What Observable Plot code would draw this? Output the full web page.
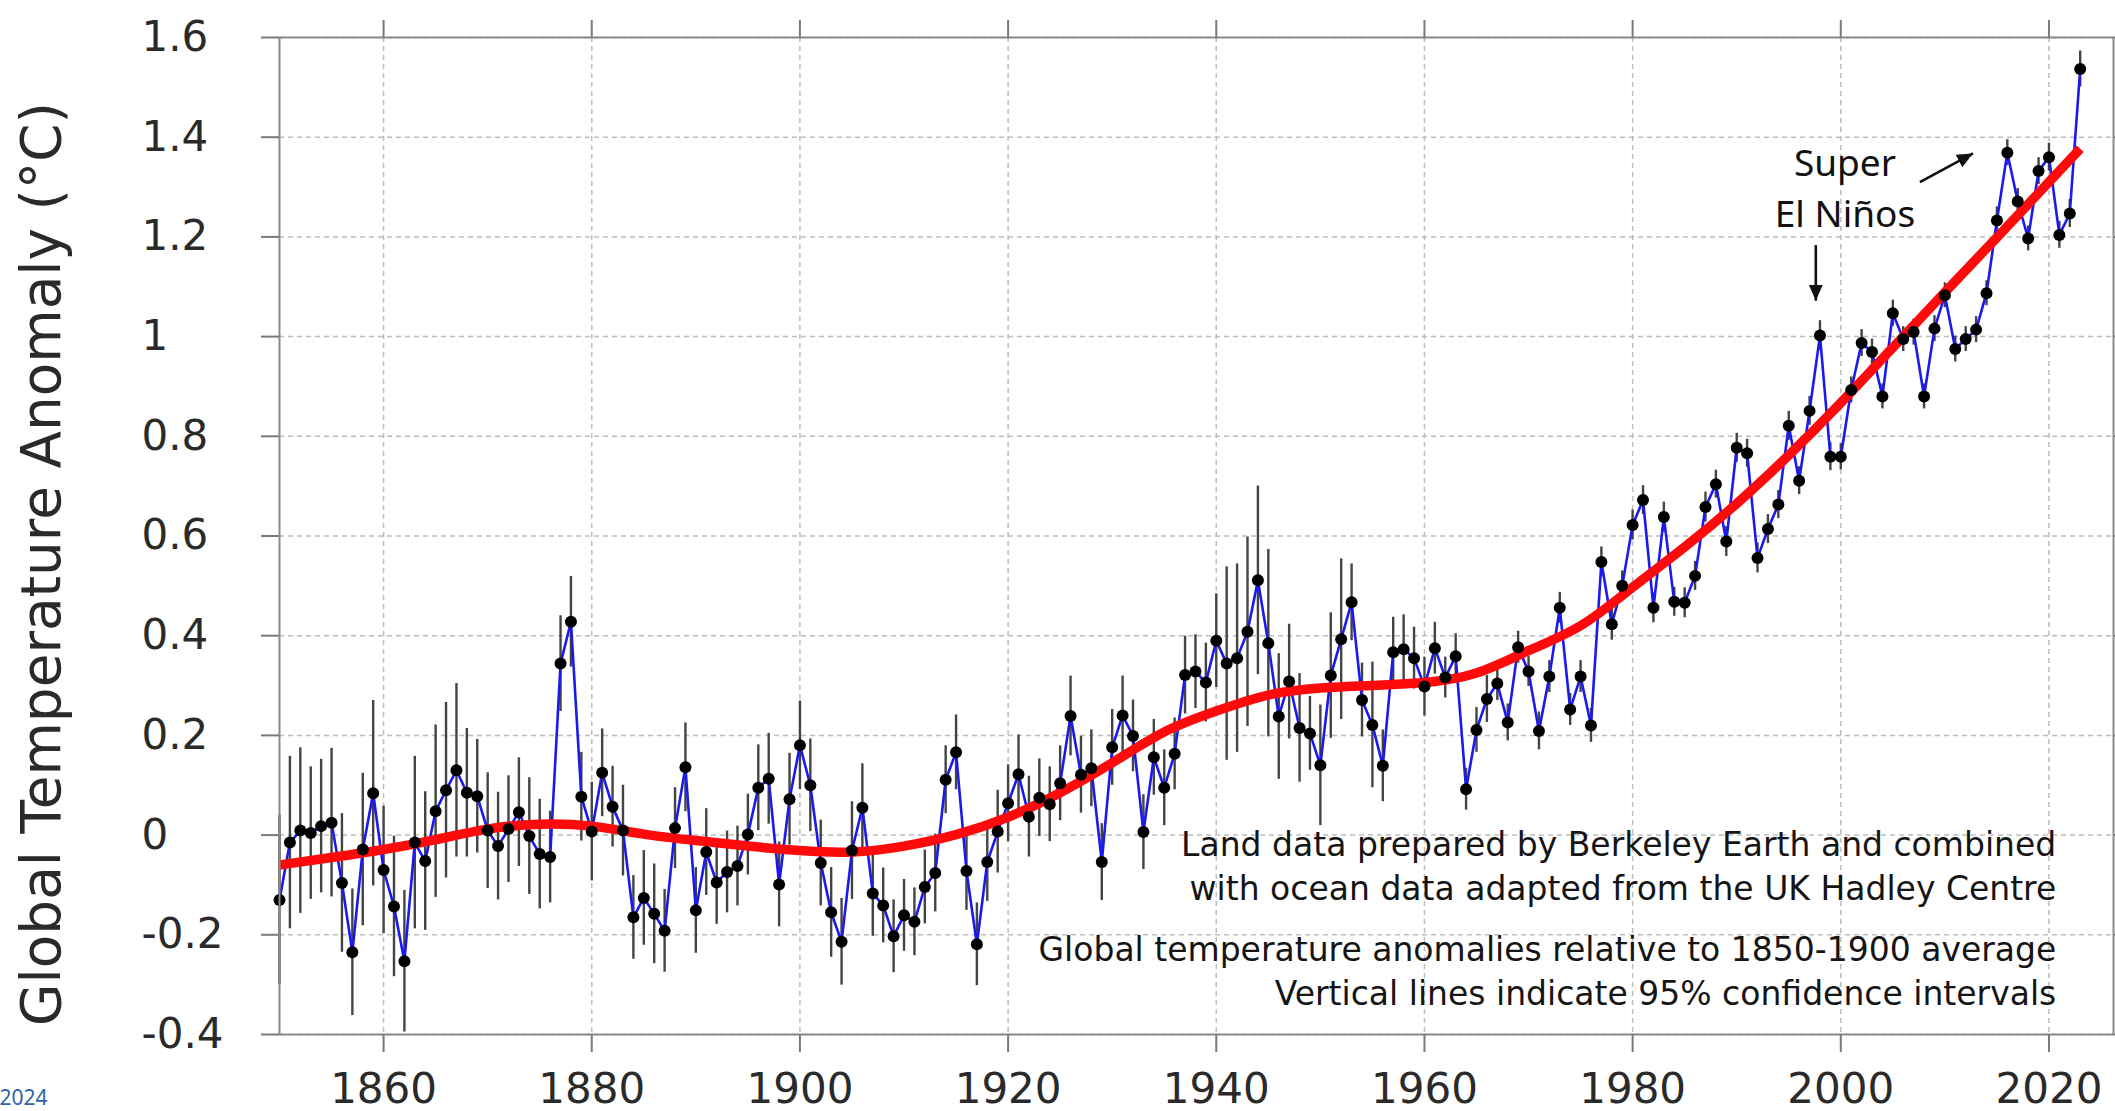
<!DOCTYPE html>
<html>
<head>
<meta charset="utf-8">
<script src="https://cdn.jsdelivr.net/npm/d3@7"></script>
<script src="https://cdn.jsdelivr.net/npm/@observablehq/plot@0.6"></script>
<style>
  html, body { margin: 0; padding: 0; background: #ffffff; }
  #chart svg { display: block; }
</style>
</head>
<body>
<div id="chart"></div>
<script>
// ---- Data ----
const firstYear = 1850;

// Annual global temperature anomaly (°C), 1850–2023
const anomalies = [
  -0.130, -0.015, 0.009, 0.004, 0.018, 0.025, -0.096, -0.235, -0.029, 0.084,   // 1850-1859
  -0.070, -0.143, -0.253, -0.015, -0.052, 0.048, 0.090, 0.130, 0.085, 0.078,   // 1860-1869
  0.009, -0.022, 0.012, 0.046, -0.002, -0.038, -0.044, 0.344, 0.428, 0.077,    // 1870-1879
  0.007, 0.125, 0.057, 0.009, -0.165, -0.126, -0.158, -0.192, 0.014, 0.136,    // 1880-1889
  -0.151, -0.034, -0.095, -0.074, -0.062, 0.001, 0.095, 0.113, -0.099, 0.072,  // 1890-1899
  0.180, 0.100, -0.056, -0.155, -0.214, -0.031, 0.055, -0.117, -0.141, -0.203, // 1900-1909
  -0.161, -0.174, -0.104, -0.076, 0.111, 0.166, -0.072, -0.219, -0.054, 0.007, // 1910-1919
  0.064, 0.122, 0.037, 0.075, 0.062, 0.104, 0.239, 0.121, 0.134, -0.054,       // 1920-1929
  0.176, 0.240, 0.199, 0.006, 0.156, 0.095, 0.163, 0.321, 0.328, 0.306,        // 1930-1939
  0.390, 0.344, 0.355, 0.408, 0.511, 0.385, 0.238, 0.308, 0.215, 0.204,        // 1940-1949
  0.140, 0.320, 0.393, 0.467, 0.271, 0.221, 0.139, 0.367, 0.373, 0.355,        // 1950-1959
  0.298, 0.375, 0.316, 0.359, 0.092, 0.211, 0.273, 0.304, 0.226, 0.377,        // 1960-1969
  0.328, 0.209, 0.318, 0.456, 0.252, 0.318, 0.220, 0.548, 0.423, 0.500,        // 1970-1979
  0.622, 0.672, 0.456, 0.638, 0.468, 0.466, 0.520, 0.658, 0.704, 0.589,        // 1980-1989
  0.777, 0.766, 0.556, 0.614, 0.663, 0.821, 0.711, 0.851, 1.002, 0.759,        // 1990-1999
  0.759, 0.893, 0.987, 0.969, 0.880, 1.047, 0.995, 1.009, 0.880, 1.016,        // 2000-2009
  1.083, 0.975, 0.995, 1.014, 1.087, 1.233, 1.369, 1.271, 1.197, 1.332,        // 2010-2019
  1.360, 1.204, 1.247, 1.537                                                   // 2020-2023
];

// Half-width of the 95% confidence interval (°C), 1850–2023
const ciHalfWidth = [
  0.170, 0.173, 0.166, 0.133, 0.134, 0.149, 0.139, 0.127, 0.153, 0.186,
  0.128, 0.141, 0.142, 0.173, 0.139, 0.173, 0.176, 0.174, 0.129, 0.114,
  0.116, 0.108, 0.107, 0.109, 0.117, 0.110, 0.092, 0.096, 0.091, 0.089,
  0.099, 0.088, 0.081, 0.091, 0.084, 0.095, 0.100, 0.083, 0.081, 0.089,
  0.086, 0.087, 0.084, 0.082, 0.080, 0.081, 0.086, 0.091, 0.085, 0.092,
  0.089, 0.093, 0.086, 0.090, 0.087, 0.098, 0.088, 0.086, 0.075, 0.073,
  0.072, 0.068, 0.074, 0.078, 0.068, 0.075, 0.079, 0.083, 0.079, 0.083,
  0.077, 0.079, 0.081, 0.078, 0.075, 0.075, 0.080, 0.077, 0.077, 0.077,
  0.076, 0.079, 0.072, 0.075, 0.076, 0.076, 0.072, 0.078, 0.074, 0.079,
  0.094, 0.194, 0.189, 0.190, 0.189, 0.188, 0.126, 0.115, 0.109, 0.074,
  0.121, 0.126, 0.161, 0.077, 0.074, 0.126, 0.072, 0.070, 0.069, 0.062,
  0.059, 0.052, 0.041, 0.045, 0.042, 0.045, 0.047, 0.034, 0.037, 0.032,
  0.030, 0.038, 0.032, 0.031, 0.032, 0.032, 0.034, 0.030, 0.032, 0.030,
  0.030, 0.029, 0.030, 0.030, 0.029, 0.030, 0.029, 0.030, 0.028, 0.030,
  0.029, 0.028, 0.030, 0.029, 0.028, 0.029, 0.028, 0.029, 0.030, 0.028,
  0.026, 0.026, 0.027, 0.026, 0.025, 0.026, 0.025, 0.026, 0.025, 0.026,
  0.025, 0.026, 0.025, 0.026, 0.025, 0.027, 0.026, 0.026, 0.025, 0.027,
  0.028, 0.027, 0.028, 0.036
];

// Smoothed trend (red curve), read at these years
const smoothYears  = [1850, 1855, 1860, 1865, 1870, 1875, 1880, 1885, 1890, 1895, 1900, 1905, 1910, 1915, 1920, 1925, 1930, 1935, 1940, 1945, 1950, 1955, 1960, 1965, 1970, 1975, 1980, 1985, 1990, 1995, 2000, 2005, 2010, 2015, 2020, 2023];
const smoothValues = [-0.060, -0.045, -0.029, -0.009, 0.012, 0.022, 0.018, 0.002, -0.011, -0.022, -0.031, -0.034, -0.022, 0.001, 0.036, 0.085, 0.145, 0.207, 0.249, 0.281, 0.295, 0.300, 0.306, 0.325, 0.370, 0.420, 0.497, 0.578, 0.665, 0.762, 0.867, 0.978, 1.089, 1.199, 1.310, 1.377];

// Axis ticks and labels
const xTicks = [1860, 1880, 1900, 1920, 1940, 1960, 1980, 2000, 2020];
const yTicks = [-0.4, -0.2, 0, 0.2, 0.4, 0.6, 0.8, 1, 1.2, 1.4, 1.6];
const yTickLabels = ["-0.4", "-0.2", "0", "0.2", "0.4", "0.6", "0.8", "1", "1.2", "1.4", "1.6"];

const yTitle = "Global Temperature Anomaly (°C)";
const noteLines = [
  "Land data prepared by Berkeley Earth and combined",
  "with ocean data adapted from the UK Hadley Centre",
  "Global temperature anomalies relative to 1850-1900 average",
  "Vertical lines indicate 95% confidence intervals"
];
const noteYear = 2020.7;
const noteValues = [-0.021, -0.109, -0.231, -0.319];

const ninoLabels = ["Super", "El Niños"];
const ninoLabelYear = 2000.4;
const ninoLabelValues = [1.345, 1.243];
const ninoArrows = [
  {x1: 1997.6, y1: 1.1835, x2: 1997.6, y2: 1.072},
  {x1: 2007.6, y1: 1.310, x2: 2012.7, y2: 1.3675}
];
const stamp = "2024";

// ---- Tables built from the arrays ----
const series = anomalies.map((v, i) => ({year: firstYear + i, value: v, ci: ciHalfWidth[i]}));
const smooth = smoothYears.map((yr, i) => ({year: yr, value: smoothValues[i]}));
const notes = noteLines.map((t, i) => ({year: noteYear, value: noteValues[i], text: t}));
const nino = ninoLabels.map((t, i) => ({year: ninoLabelYear, value: ninoLabelValues[i], text: t}));
const yLabelOf = new Map(yTicks.map((t, i) => [t, yTickLabels[i]]));

const gridStyle = {stroke: "#bdbdbd", strokeOpacity: 1, strokeWidth: 1.5, strokeDasharray: "5,4"};
const tickColor = "#7a7a7a";
const labelColor = "#2a2a2a";

const chart = Plot.plot({
  width: 2115,
  height: 1111,
  marginLeft: 279,
  marginRight: 2,
  marginTop: 37,
  marginBottom: 77,
  style: {fontFamily: "DejaVu Sans", background: "#ffffff", overflow: "visible"},
  x: {domain: [1850, 2026.2]},
  y: {domain: [-0.4, 1.6]},
  marks: [
    Plot.gridY(yTicks, gridStyle),
    Plot.gridX(xTicks, gridStyle),
    Plot.ruleX(series, {x: "year", y1: d => d.value - d.ci, y2: d => d.value + d.ci, stroke: "#444444", strokeWidth: 2.4}),
    Plot.line(series, {x: "year", y: "value", stroke: "#1a1aee", strokeWidth: 2.6}),
    Plot.line(smooth, {x: "year", y: "value", stroke: "#ff0a0a", strokeWidth: 9.5, curve: "natural", strokeLinecap: "butt"}),
    Plot.dot(series, {x: "year", y: "value", r: 6, fill: "#000000", stroke: "none"}),
    Plot.frame({stroke: "#8a8a8a", strokeWidth: 2}),
    Plot.axisX(xTicks, {anchor: "bottom", tickSize: 18, tickPadding: 21, stroke: tickColor, strokeWidth: 2, fill: labelColor, fontSize: 42, tickFormat: d => String(d), label: null}),
    Plot.axisX(xTicks, {anchor: "top", tickSize: 18, stroke: tickColor, strokeWidth: 2, tickFormat: () => "", label: null}),
    Plot.axisY(yTicks, {anchor: "left", tickSize: 18, tickPadding: 120, textAnchor: "start", stroke: tickColor, strokeWidth: 2, fill: labelColor, fontSize: 42, tickFormat: d => yLabelOf.get(d), label: null}),
    Plot.axisY(yTicks, {anchor: "right", tickSize: 18, stroke: tickColor, strokeWidth: 2, tickFormat: () => "", label: null}),
    Plot.text(notes, {x: "year", y: "value", text: "text", textAnchor: "end", lineAnchor: "middle", fontSize: 33, fill: "#151515"}),
    Plot.text(nino, {x: "year", y: "value", text: "text", textAnchor: "middle", lineAnchor: "middle", fontSize: 37, fontFamily: "Noto Sans", fill: "#111111"}),
    Plot.link(ninoArrows, {x1: "x1", y1: "y1", x2: "x2", y2: "y2", stroke: "#111111", strokeWidth: 2.6, className: "annot-arrow"}),
    Plot.text([yTitle], {text: d => d, frameAnchor: "left", dx: -237, dy: 28, rotate: -90, lineAnchor: "middle", textAnchor: "middle", fontSize: 56, fill: labelColor, className: "ytitle"}),
    Plot.text([stamp], {text: d => d, frameAnchor: "bottom-left", dx: -256, dy: 64, lineAnchor: "middle", textAnchor: "middle", fontSize: 21, fontFamily: "Noto Sans", fill: "#2d63a6"})
  ]
});

document.getElementById("chart").appendChild(chart);

// Filled triangular arrow heads for the annotation arrows
const svg = d3.select(chart);
const defs = svg.insert("defs", ":first-child");
defs.append("marker")
  .attr("id", "tri-head")
  .attr("viewBox", "0 -8 16 16")
  .attr("refX", 16).attr("refY", 0)
  .attr("markerWidth", 16).attr("markerHeight", 16)
  .attr("markerUnits", "userSpaceOnUse")
  .attr("orient", "auto")
  .append("path").attr("d", "M0,-7L16,0L0,7Z").attr("fill", "#111111");
svg.selectAll("g.annot-arrow path").attr("marker-end", "url(#tri-head)");

// Fit the rotated y title to the reference length
svg.selectAll("g.ytitle text").attr("textLength", 924).attr("lengthAdjust", "spacingAndGlyphs");
</script>
</body>
</html>
